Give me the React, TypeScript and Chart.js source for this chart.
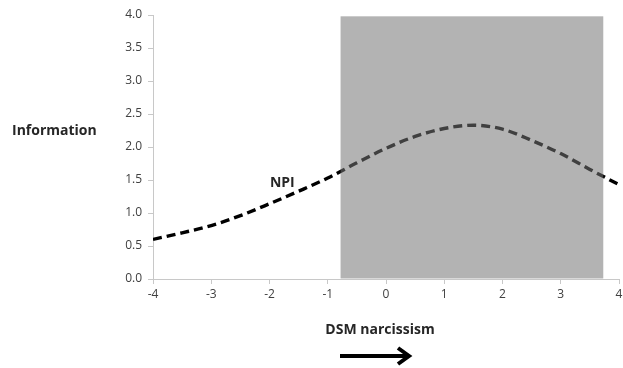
import React, { useEffect, useRef } from "react";
import { Chart, registerables } from "chart.js";

Chart.register(...registerables);

// Data
const thetaValues = [-4, -3.5, -3, -2.5, -2, -1.5, -1, -0.5, 0, 0.5, 1, 1.5, 2, 2.5, 3, 3.5, 4];
const npiInformation = [0.6, 0.7, 0.81, 0.96, 1.14, 1.33, 1.53, 1.76, 1.98, 2.16, 2.28, 2.33, 2.27, 2.1, 1.9, 1.66, 1.43];
const shadedX = [-0.78, 3.73];
const shadedY = [0, 3.98];
const xTicks = [-4, -3, -2, -1, 0, 1, 2, 3, 4];
const yTicks = [0, 0.5, 1, 1.5, 2, 2.5, 3, 3.5, 4];
const seriesLabel = "NPI";
const seriesLabelPos = [-1.78, 1.45];
const yTitle = "Information";
const xTitle = "DSM narcissism";

const FONT = '"Open Sans", "Liberation Sans", sans-serif';

const overlayPlugin = {
  id: "overlay",
  afterDatasetsDraw(chart: any) {
    const { ctx, scales } = chart;
    const x = scales.x;
    const y = scales.y;
    const x0 = x.getPixelForValue(shadedX[0]);
    const x1 = x.getPixelForValue(shadedX[1]);
    const y0 = y.getPixelForValue(shadedY[0]);
    const y1 = y.getPixelForValue(shadedY[1]);
    ctx.save();
    ctx.fillStyle = "rgba(116,116,116,0.55)";
    ctx.fillRect(x0, y1, x1 - x0, y0 - y1 - 0.5);
    ctx.restore();
  },
  afterDraw(chart: any) {
    const { ctx, scales } = chart;
    const x = scales.x;
    const y = scales.y;
    ctx.save();
    ctx.fillStyle = "#262626";
    ctx.font = `bold 14px ${FONT}`;
    ctx.textBaseline = "middle";
    ctx.textAlign = "center";
    ctx.fillText(seriesLabel, x.getPixelForValue(seriesLabelPos[0]), y.getPixelForValue(seriesLabelPos[1]));
    ctx.textAlign = "left";
    ctx.fillText(yTitle, 12, 131);
    ctx.textAlign = "center";
    const cx = 380;
    ctx.fillText(xTitle, cx, 330);
    // arrow
    ctx.strokeStyle = "#000";
    ctx.lineWidth = 4;
    ctx.lineCap = "butt";
    ctx.beginPath();
    ctx.moveTo(cx - 40, 356);
    ctx.lineTo(cx + 28, 356);
    ctx.stroke();
    ctx.lineJoin = "miter";
    ctx.beginPath();
    ctx.moveTo(cx + 18, 348);
    ctx.lineTo(cx + 29, 356);
    ctx.lineTo(cx + 18, 364);
    ctx.stroke();
    ctx.restore();
  },
};

export default function App() {
  const ref = useRef<HTMLCanvasElement | null>(null);
  useEffect(() => {
    if (!ref.current) return;
    const chart = new Chart(ref.current, {
      type: "line",
      data: {
        datasets: [
          {
            label: seriesLabel,
            data: thetaValues.map((t, i) => ({ x: t, y: npiInformation[i] })),
            borderColor: "#000",
            borderWidth: 3.4,
            borderDash: [9, 5],
            pointRadius: 0,
            cubicInterpolationMode: "monotone",
            fill: false,
          },
        ],
      },
      options: {
        animation: false,
        responsive: true,
        maintainAspectRatio: false,
        layout: { padding: { top: 15, right: 0, left: 0, bottom: 0 } },
        plugins: { legend: { display: false }, tooltip: { enabled: false } },
        scales: {
          x: {
            type: "linear",
            min: -4,
            max: 4,
            afterBuildTicks: (s: any) => {
              s.ticks = xTicks.map((v) => ({ value: v }));
            },
            afterFit: (s: any) => {
              s.height = 89;
              s.paddingRight = 4;
            },
            grid: { drawOnChartArea: false, drawTicks: true, tickLength: 5, color: "#c8c8c8" },
            border: { color: "#c8c8c8", width: 1 },
            ticks: {
              color: "#404040",
              font: { family: FONT, size: 12 },
              padding: 3,
              maxRotation: 0,
              callback: (v: any) => String(v),
            },
          },
          y: {
            type: "linear",
            min: 0,
            max: 4,
            afterBuildTicks: (s: any) => {
              s.ticks = yTicks.map((v) => ({ value: v }));
            },
            afterFit: (s: any) => {
              s.width = 153;
            },
            grid: { drawOnChartArea: false, drawTicks: true, tickLength: 5, color: "#c8c8c8" },
            border: { color: "#c8c8c8", width: 1 },
            ticks: {
              color: "#404040",
              font: { family: FONT, size: 12 },
              padding: 6,
              callback: (v: any) => Number(v).toFixed(1),
            },
          },
        },
      },
      plugins: [overlayPlugin],
    });
    return () => chart.destroy();
  }, []);
  return (
    <div style={{ position: "absolute", left: 0, top: 0, width: 623, height: 368, background: "#fff" }}>
      <canvas ref={ref} />
    </div>
  );
}
